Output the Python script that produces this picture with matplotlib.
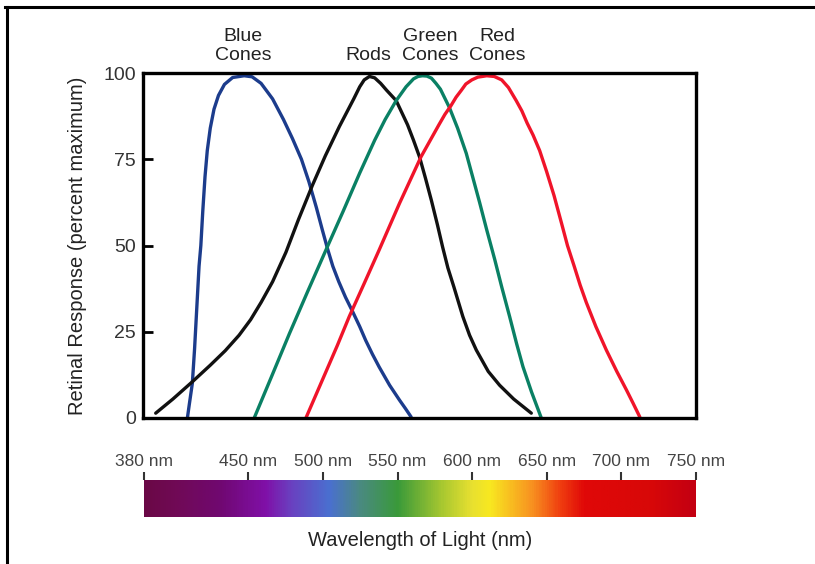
import matplotlib
matplotlib.use('Agg')
import matplotlib.pyplot as plt
import numpy as np
from matplotlib.colors import LinearSegmentedColormap
from matplotlib.lines import Line2D

# ------------------------------------------------------------
# - data (wavelength nm, percent of maximum)
blue_nm = [409.7, 411, 413, 414.5, 416, 417.5, 418.7, 420, 421.5, 423, 425, 427.5, 430.5,
           434.5, 440, 447.7, 453, 459, 466.7, 474, 480, 486, 491, 496, 500, 503.5, 507,
           511, 515.5, 520.3, 525, 529, 533.5, 538, 545, 551.6, 555.5, 559.4]
blue_val = [0, 4, 10, 20, 32, 44, 50, 60, 70, 77.5, 84, 89.5, 93.5, 96.7, 98.7, 99.2, 98.9,
            97, 92.5, 86.5, 81, 75, 68.5, 61, 54.5, 49, 44, 39.5, 35, 30.8, 26.5, 22.5,
            18.5, 14.8, 9.5, 5.2, 2.8, 0.3]

rods_nm = [388.5, 400, 413, 425, 435, 444.3, 452, 459, 466.7, 475.6, 484, 493.4, 502,
           511.4, 518, 521, 525, 528, 531.5, 535, 539, 543, 549.4, 557, 561, 565, 569, 573,
           577, 580.5, 584, 588, 594, 598.5, 603, 611, 618.6, 628, 639.8]
rods_val = [1.4, 5.5, 10.5, 15.3, 19.5, 24, 28.5, 33.5, 39.5, 48, 57.5, 67.5, 76, 84.5,
            90, 92.5, 96, 98, 99, 98.6, 97, 95, 92, 85, 80.5, 75.7, 69.5, 63, 56, 49.5,
            43.5, 38, 29.4, 24, 19.7, 13.5, 9.5, 5.5, 1.4]

green_nm = [454.4, 466, 478, 490, 502.4, 514, 525, 535, 542, 549.4, 556, 561, 564, 567,
            570, 573, 576, 579, 585, 590.5, 596.3, 600.5, 605.2, 610, 615.3, 620, 625.3,
            630, 634.2, 640, 646.5]
green_val = [0, 12, 24.5, 36.5, 48.7, 60, 71, 80.5, 86.5, 92, 96, 98.3, 99, 99.2, 99.1,
             98.5, 97, 95.3, 90, 84, 76.7, 70, 62.5, 54.5, 46, 38, 29.4, 21.5, 14.9, 7.5, 0]

red_nm = [489, 500, 510, 518, 528, 538, 551.6, 566, 578, 582, 586, 589.5, 593, 596, 600,
          604, 610, 615, 620, 624.5, 629.7, 633.5, 637, 641, 645.4, 650, 655, 660, 664,
          668.5, 672.5, 676.6, 683, 690, 697, 703.5, 708, 712.4]
red_val = [0, 11, 21, 29.4, 39, 48.7, 62.2, 75.7, 85, 88, 90.5, 93, 95, 96.8, 98, 98.8,
           99.2, 99, 98, 95.8, 92, 89, 85.5, 82, 77.5, 71.5, 64.5, 56.5, 50, 44, 38.5,
           33.5, 26.5, 19.7, 13.5, 8.1, 4.2, 0.3]

curve_colors = ['#1c3c8c', '#111111', '#0a8064', '#f0142a']

label_text = ['Blue\nCones', 'Rods', 'Green\nCones', 'Red\nCones']
label_nm = [447, 531, 572, 617]

y_ticks = [0, 25, 50, 75, 100]
wave_ticks = [380, 450, 500, 550, 600, 650, 700, 750]
wave_labels = ['380 nm', '450 nm', '500 nm', '550 nm', '600 nm', '650 nm', '700 nm', '750 nm']

# - spectrum colours along the bar (nm, colour)
spec_nm = [380, 400, 430, 461, 478, 504, 525, 550, 580, 600, 612, 641, 659, 676, 720, 750]
spec_col = ['#6a0846', '#700a55', '#700870', '#8010a8', '#6a40c0', '#4a70d0', '#4a8a80',
            '#3a9a3a', '#a8c830', '#e8e030', '#f8e820', '#f89020', '#f04010', '#e00808',
            '#d80808', '#c40012']

# ------------------------------------------------------------
plt.rcParams['font.family'] = ['Liberation Sans', 'DejaVu Sans']

fig = plt.figure(figsize=(8.15, 5.64), dpi=100)
fig.patch.set_facecolor('white')

ax1 = fig.add_axes([143 / 815, 1 - 418 / 564, 553 / 815, 345 / 564])

for xs, ys, c in zip([blue_nm, rods_nm, green_nm, red_nm],
                     [blue_val, rods_val, green_val, red_val], curve_colors):
    ax1.plot(xs, ys, color=c, lw=2.4, solid_joinstyle='round', solid_capstyle='round')

ax1.set_xlim(380, 750)
ax1.set_ylim(0, 100)
ax1.set_xticks([])
ax1.set_yticks(y_ticks)
ax1.tick_params(axis='y', direction='in', length=7, width=2, labelsize=14, pad=5,
                labelcolor='#333333')
for s in ax1.spines.values():
    s.set_linewidth(2.4)

ax1.set_ylabel('Retinal Response (percent maximum)', fontsize=14.5, color='#222222',
               labelpad=12)

for txt, nm in zip(label_text, label_nm):
    ax1.text(nm, 102.5, txt, ha='center', va='bottom', fontsize=14, color='#222222',
             linespacing=1.2, clip_on=False)

# ------------------------------------------------------------
# - spectrum bar
ax2 = fig.add_axes([144 / 815, 1 - 517 / 564, 552 / 815, 37 / 564])
cmap = LinearSegmentedColormap.from_list(
    'spec', [((n - 380) / 370, c) for n, c in zip(spec_nm, spec_col)])
grad = np.linspace(0, 1, 600).reshape(1, -1)
ax2.imshow(grad, cmap=cmap, aspect='auto', extent=[380, 750, 0, 1])
ax2.set_xlim(380, 750)
ax2.set_yticks([])
ax2.set_xticks(wave_ticks)
ax2.set_xticklabels(wave_labels)
ax2.xaxis.tick_top()
ax2.tick_params(axis='x', direction='out', length=6, width=1.5, color='#333333',
                labelsize=12.5, pad=2, labelcolor='#444444')
for s in ax2.spines.values():
    s.set_visible(False)

fig.text(420 / 815, 1 - 540 / 564, 'Wavelength of Light (nm)', ha='center', va='center',
         fontsize=14.5, color='#222222')

# - frame lines of the picture
fig.add_artist(Line2D([5 / 815, 1], [1 - 7 / 564, 1 - 7 / 564], color='black', lw=2.2))
fig.add_artist(Line2D([7 / 815, 7 / 815], [0, 1 - 7 / 564], color='black', lw=2.2))

fig.savefig('out.png', dpi=100)
